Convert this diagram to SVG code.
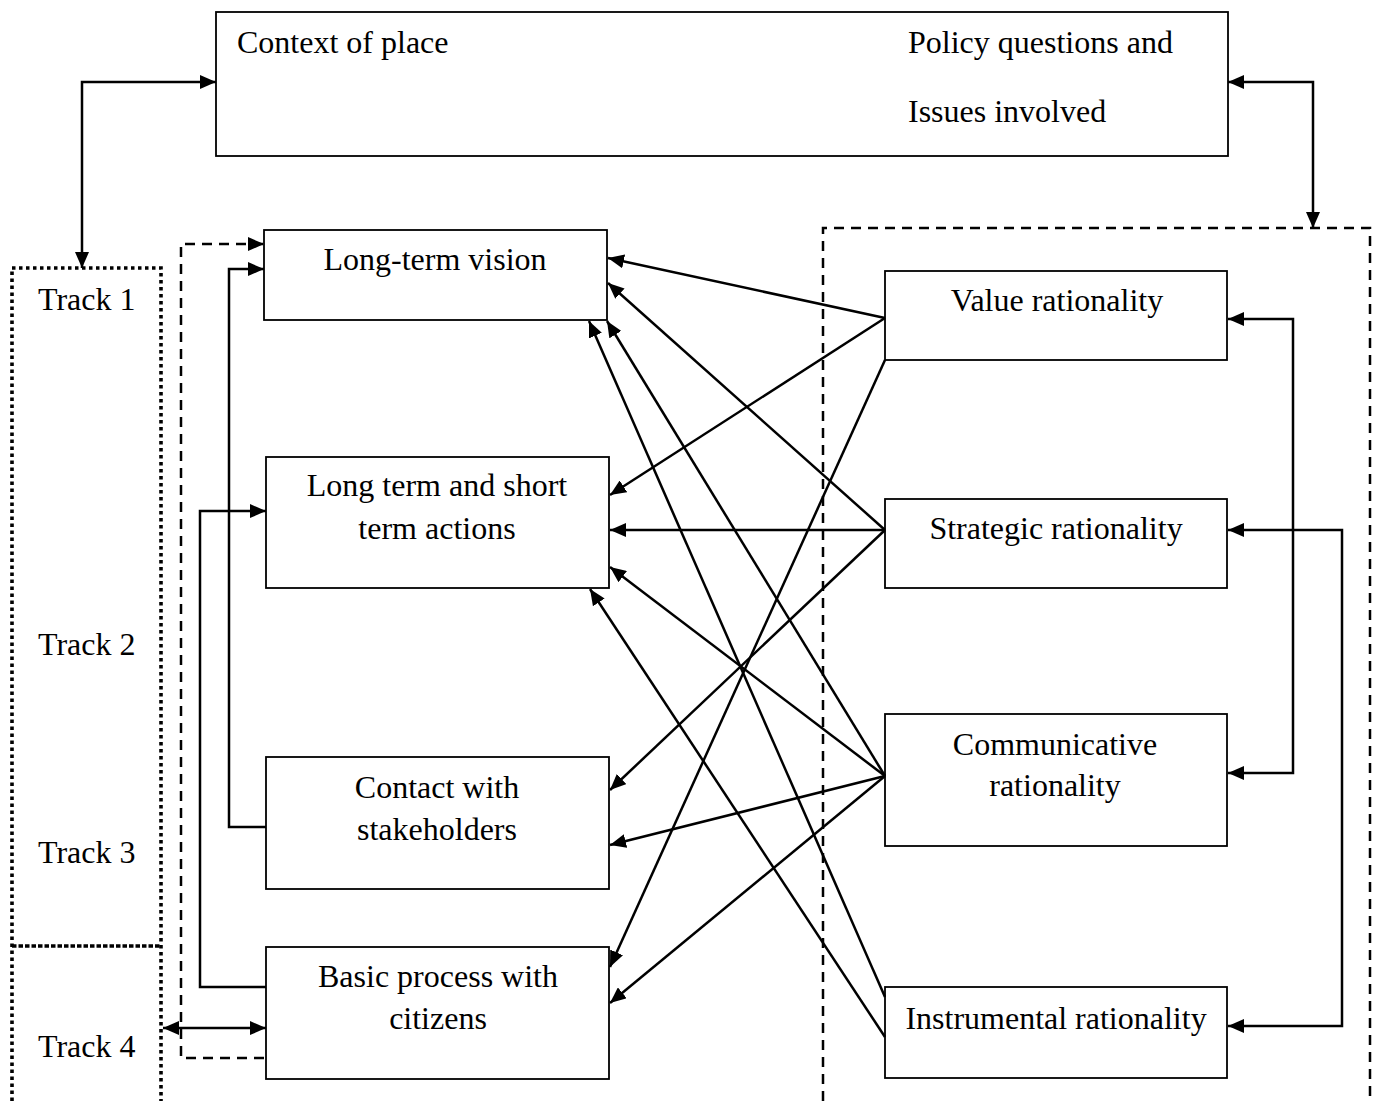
<svg xmlns="http://www.w3.org/2000/svg" width="1376" height="1101" viewBox="0 0 1376 1101">
  <style>
    .box { fill: #fff; stroke: #000; stroke-width: 1.8; }
    .lbl { font-family: "Liberation Serif", "Times New Roman", serif; font-size: 32px; fill: #000; }
    .mid { text-anchor: middle; }
    .wire { fill: none; stroke: #000; stroke-width: 2.5; }
    .dash { fill: none; stroke: #000; stroke-width: 2.5; stroke-dasharray: 10 7; }
    .dot { fill: none; stroke: #000; stroke-width: 3.6; stroke-dasharray: 3.5 3.5; }
  </style>
  <defs>
    <marker id="ah" markerUnits="userSpaceOnUse" markerWidth="17" markerHeight="14" refX="16" refY="7" orient="auto-start-reverse">
      <path d="M0,0 L16,7 L0,14 z" fill="#000"/>
    </marker>
  </defs>
  <rect width="1376" height="1101" fill="#fff"/>

  <!-- frames: track column and rationality group -->
  <g id="track-frame">
    <path class="dot" d="M12,1101 L12,268 L161,268 L161,1101"/>
    <line x1="12" y1="946" x2="161" y2="946" stroke="#000" stroke-width="3.6" stroke-dasharray="4.5 2"/>
    <text class="lbl" x="38" y="310">Track 1</text>
    <text class="lbl" x="38" y="655">Track 2</text>
    <text class="lbl" x="38" y="863">Track 3</text>
    <text class="lbl" x="38" y="1057">Track 4</text>
  </g>
  <path id="rationality-frame" class="dash" d="M823,1101 L823,228 L1370,228 L1370,1101"/>

  <!-- nodes -->
  <g id="context">
    <rect class="box" x="216" y="12" width="1012" height="144"/>
    <text class="lbl" x="237" y="53">Context of place</text>
    <text class="lbl" x="908" y="53">Policy questions and</text>
    <text class="lbl" x="908" y="122">Issues involved</text>
  </g>
  <g id="vision">
    <rect class="box" x="264" y="230" width="343" height="90"/>
    <text class="lbl mid" x="435" y="270">Long-term vision</text>
  </g>
  <g id="actions">
    <rect class="box" x="266" y="457" width="343" height="131"/>
    <text class="lbl mid" x="437" y="496">Long term and short</text>
    <text class="lbl mid" x="437" y="539">term actions</text>
  </g>
  <g id="stakeholders">
    <rect class="box" x="266" y="757" width="343" height="132"/>
    <text class="lbl mid" x="437" y="798">Contact with</text>
    <text class="lbl mid" x="437" y="840">stakeholders</text>
  </g>
  <g id="citizens">
    <rect class="box" x="266" y="947" width="343" height="132"/>
    <text class="lbl mid" x="438" y="987">Basic process with</text>
    <text class="lbl mid" x="438" y="1029">citizens</text>
  </g>
  <g id="value">
    <rect class="box" x="885" y="271" width="342" height="89"/>
    <text class="lbl mid" x="1057" y="311">Value rationality</text>
  </g>
  <g id="strategic">
    <rect class="box" x="885" y="499" width="342" height="89"/>
    <text class="lbl mid" x="1056" y="539">Strategic rationality</text>
  </g>
  <g id="communicative">
    <rect class="box" x="885" y="714" width="342" height="132"/>
    <text class="lbl mid" x="1055" y="755">Communicative</text>
    <text class="lbl mid" x="1055" y="796">rationality</text>
  </g>
  <g id="instrumental">
    <rect class="box" x="885" y="987" width="342" height="91"/>
    <text class="lbl mid" x="1056" y="1029">Instrumental rationality</text>
  </g>

  <!-- connectors -->
  <g id="connectors">
    <!-- context to tracks and rationalities -->
    <path class="wire" d="M216,82 L82,82 L82,268" marker-start="url(#ah)" marker-end="url(#ah)"/>
    <path class="wire" d="M1228,82 L1313,82 L1313,228" marker-start="url(#ah)" marker-end="url(#ah)"/>
    <!-- left-hand loops -->
    <path class="dash" d="M264,1058 L181,1058 L181,244 L264,244" marker-end="url(#ah)"/>
    <path class="wire" d="M266,827 L229,827 L229,269 L264,269" marker-end="url(#ah)"/>
    <path class="wire" d="M266,987 L200,987 L200,511 L266,511" marker-end="url(#ah)"/>
    <path class="wire" d="M163,1028 L266,1028" marker-start="url(#ah)" marker-end="url(#ah)"/>
    <!-- right-hand loops -->
    <path class="wire" d="M1228,319 L1293,319 L1293,773 L1228,773" marker-start="url(#ah)" marker-end="url(#ah)"/>
    <path class="wire" d="M1228,530 L1342,530 L1342,1026 L1228,1026" marker-start="url(#ah)" marker-end="url(#ah)"/>
    <!-- value rationality -->
    <line class="wire" x1="885" y1="318" x2="608" y2="258" marker-end="url(#ah)"/>
    <line class="wire" x1="885" y1="318" x2="610" y2="495" marker-end="url(#ah)"/>
    <line class="wire" x1="885" y1="360" x2="610" y2="967" marker-end="url(#ah)"/>
    <!-- strategic rationality -->
    <line class="wire" x1="885" y1="530" x2="608" y2="283" marker-end="url(#ah)"/>
    <line class="wire" x1="885" y1="530" x2="610" y2="530" marker-end="url(#ah)"/>
    <line class="wire" x1="885" y1="530" x2="610" y2="790" marker-end="url(#ah)"/>
    <!-- communicative rationality -->
    <line class="wire" x1="885" y1="776" x2="607" y2="321" marker-end="url(#ah)"/>
    <line class="wire" x1="885" y1="776" x2="610" y2="567" marker-end="url(#ah)"/>
    <line class="wire" x1="885" y1="776" x2="610" y2="845" marker-end="url(#ah)"/>
    <line class="wire" x1="885" y1="776" x2="610" y2="1003" marker-end="url(#ah)"/>
    <!-- instrumental rationality -->
    <line class="wire" x1="885" y1="997" x2="589" y2="321" marker-end="url(#ah)"/>
    <line class="wire" x1="885" y1="1037" x2="590" y2="589" marker-end="url(#ah)"/>
  </g>
</svg>
